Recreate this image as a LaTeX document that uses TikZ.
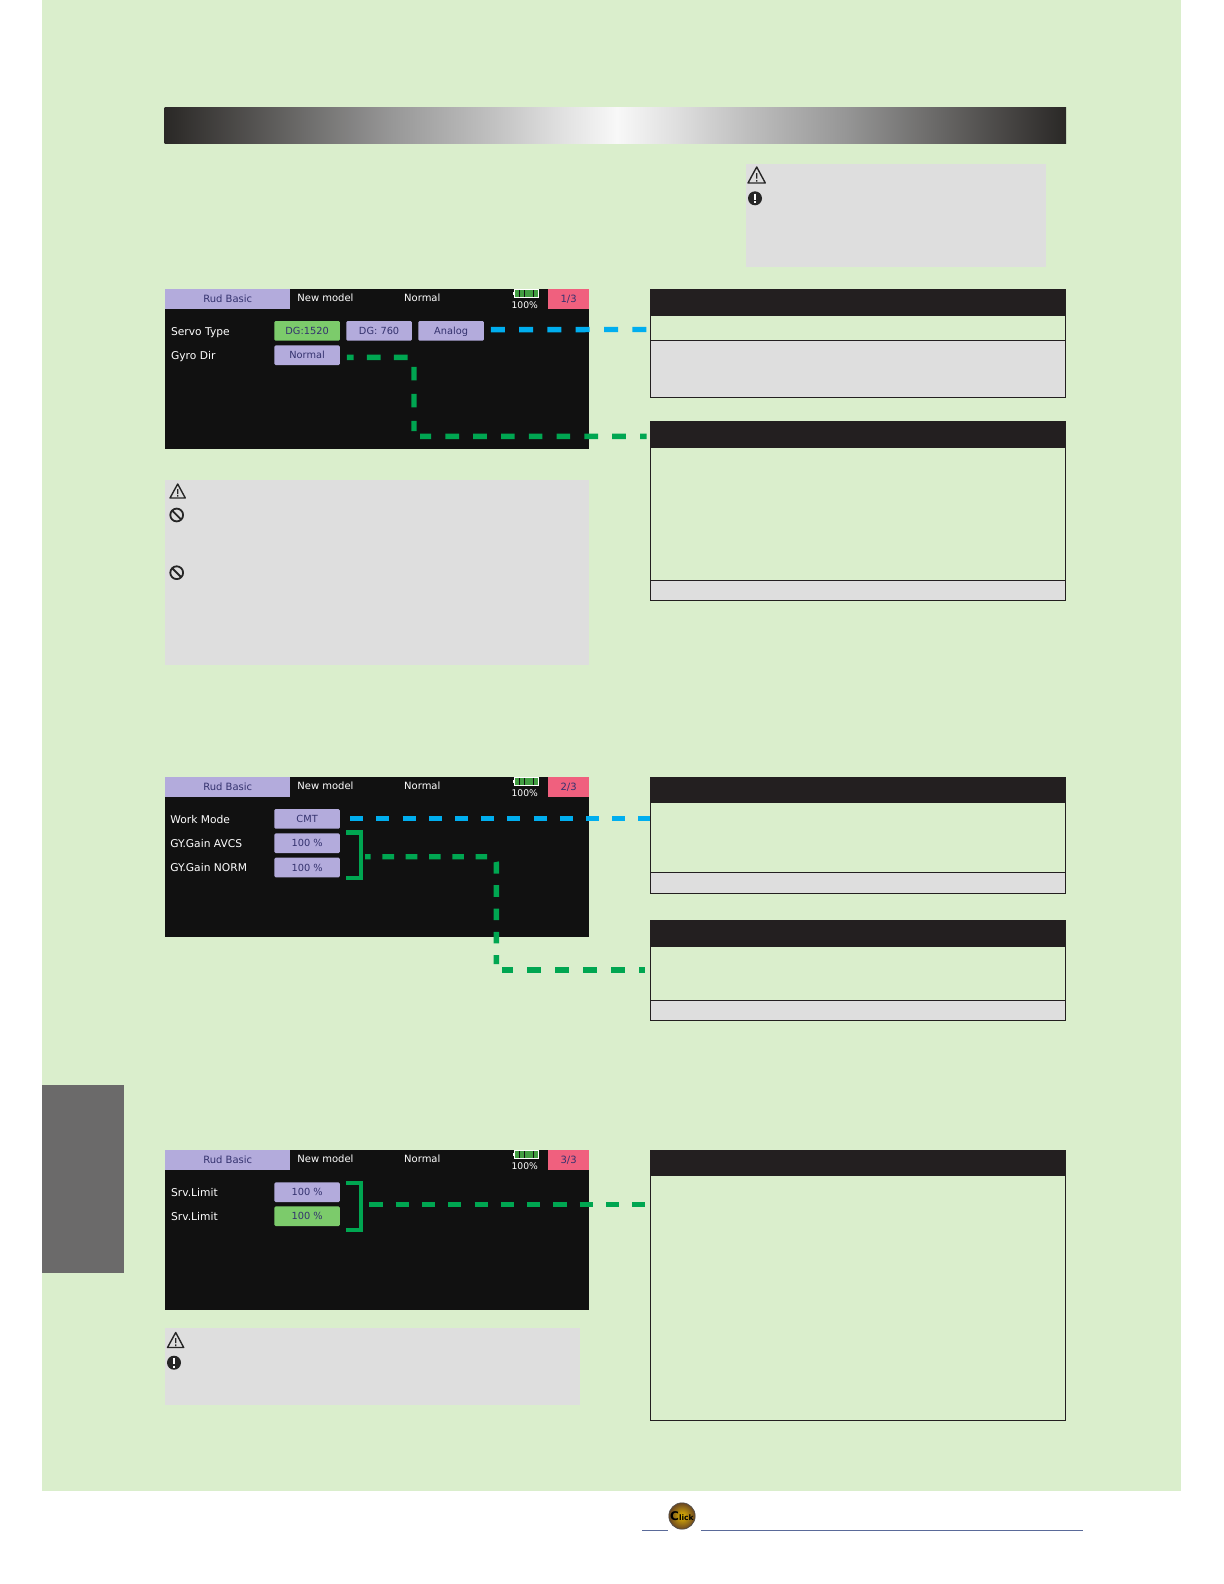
\documentclass[tikz,border=0pt]{standalone}
\usepackage{fontspec}
\setmainfont{DejaVu Sans}
\definecolor{panelgreen}{RGB}{218,238,204}
\definecolor{notegrey}{RGB}{222,222,222}
\definecolor{tabgrey}{RGB}{107,106,106}
\definecolor{headdark}{RGB}{35,31,32}
\definecolor{screenblack}{RGB}{17,17,17}
\definecolor{btnlav}{RGB}{179,171,220}
\definecolor{btngreen}{RGB}{124,203,107}
\definecolor{pagepink}{RGB}{240,96,126}
\definecolor{btnink}{RGB}{52,50,110}
\definecolor{dashblue}{RGB}{0,174,239}
\definecolor{dashgreen}{RGB}{0,166,81}
\definecolor{cellgreen}{RGB}{66,158,66}
\definecolor{rulelav}{RGB}{90,106,153}
\definecolor{barend}{RGB}{42,40,38}
\definecolor{barpeak}{RGB}{248,248,248}
\pgfdeclarehorizontalshading{barshade}{100bp}{color(0bp)=(barend);color(25bp)=(barend);
  color(30bp)=(barend!80!white);color(37.5bp)=(black!41);color(43bp)=(black!25);color(47bp)=(black!12);color(50.1bp)=(barpeak);
  color(53.2bp)=(black!12);color(57.2bp)=(black!25);color(62.7bp)=(black!41);color(70.2bp)=(barend!80!white);color(75bp)=(barend);color(100bp)=(barend)}
\tikzset{
  scrlabel/.style={inner sep=0pt,font=\fontsize{5}{6}\selectfont,text=white,text height=3.6pt,text depth=0pt},
  sidelabel/.style={scrlabel,anchor=west,font=\fontsize{5.35}{6}\selectfont},
  scrbtn/.style={rectangle,rounded corners=0.6pt,fill=btnlav,anchor=north west,inner sep=0pt,
    minimum width=32.7pt,minimum height=9.8pt,font=\fontsize{4.9}{6}\selectfont,text=btnink,text height=3.6pt,text depth=0pt},
  scrbtnon/.style={scrbtn,fill=btngreen},
  scrtab/.style={rectangle,anchor=north west,inner sep=0pt,minimum height=9.6pt,
    font=\fontsize{5}{6}\selectfont,text=btnink,text height=3.6pt,text depth=0pt},
  panelhead/.style={rectangle,anchor=north west,inner sep=0pt,outer sep=0pt,minimum width=207.8pt,fill=headdark},
  panelrow/.style={rectangle,anchor=north west,inner sep=0pt,outer sep=0pt,minimum width=207.6pt,draw=headdark,line width=0.5pt},
  bluedash/.style={draw=dashblue,line width=2.7pt},
  greendash/.style={draw=dashgreen,line width=2.7pt,rounded corners=3pt},
  gainbracket/.style={draw=dashgreen,line width=2.2pt},
  warnicon/.style={draw=black!85,line width=0.7pt,line join=round},
}
\begin{document}
\begin{tikzpicture}[x=0.5pt,y=-0.5pt]
\useasboundingbox (0,0) rectangle (1224,1584);

%Page ground
\fill [panelgreen] (42.4,0) rectangle (1181,1491);
\fill [tabgrey] (42.4,1085) rectangle (124,1273);
\shade [shading=barshade] (164.7,108) rectangle (1066,143.4);

%Note boxes
\fill [notegrey] (746,164) rectangle (1045.7,267.3);
\fill [notegrey] (165,480) rectangle (588.7,665);
\fill [notegrey] (165,1328.3) rectangle (580,1404.5);

%Note icons
\draw [warnicon] (756.7,167) -- (765.3,183) -- (748,183) -- cycle (756.7,173) -- (756.7,178.5) (756.7,180) -- (756.7,181.5);
\fill [black!85] (755,198.3) circle (3.5pt);
\draw [white,line width=0.8pt] (755,193.5) -- (755,199.5) (755,201) -- (755,203);
\draw [warnicon] (177.7,484) -- (185.3,498) -- (170,498) -- cycle (177.7,489) -- (177.7,494) (177.7,495) -- (177.7,496.5);
\draw [warnicon,line width=0.9pt] (176.7,515) circle (3.2pt) (172.2,510.5) -- (181.2,519.5);
\draw [warnicon,line width=0.9pt] (176.7,572.7) circle (3.2pt) (172.2,568.2) -- (181.2,577.2);
\draw [warnicon] (175.7,1332.5) -- (183.7,1347.5) -- (167.5,1347.5) -- cycle (175.7,1338) -- (175.7,1343) (175.7,1344.3) -- (175.7,1346);
\fill [black!85] (174,1362.7) circle (3.5pt);
\draw [white,line width=0.8pt] (174,1358) -- (174,1364) (174,1365.5) -- (174,1367.5);

%Screens
\foreach \scrtop/\scrpage in {289/1,777/2,1150/3} {
  \fill [screenblack] (164.7,\scrtop) rectangle (588.7,\scrtop+160);
  \draw (164.7,\scrtop) node [scrtab,fill=btnlav,minimum width=62.6pt] (rudtab\scrpage) {Rud Basic};
  \draw (547.7,\scrtop) node [scrtab,fill=pagepink,minimum width=20.5pt] (pagetab\scrpage) {\scrpage/3};
  \draw (297,\scrtop+9.3) node [scrlabel,anchor=west] (modelname\scrpage) {New model};
  \draw (422.3,\scrtop+9.3) node [scrlabel] (condname\scrpage) {Normal};
  \draw (524.7,\scrtop+15.7) node [scrlabel,font=\fontsize{4.6}{5}\selectfont] (battpct\scrpage) {100\%};
  %Battery
  \draw [white,line width=0.5pt] (514.5,\scrtop) rectangle (538.7,\scrtop+8.5);
  \fill [white] (513.3,\scrtop+2.5) rectangle (514.5,\scrtop+5.5);
  \foreach \cell in {515.3,519.9,524.5,529.1,533.7}
    \fill [cellgreen] (\cell,\scrtop+1) rectangle (\cell+4.1,\scrtop+7.5);
}

%Screen 1 texts and buttons
\draw (170.7,331.7) node [sidelabel] (servolbl) {Servo Type};
\draw (170.7,356) node [sidelabel] (gyrolbl) {Gyro Dir};
\draw (274,320.7) node [scrbtnon] (dgfast) {DG:1520};
\draw (346,320.7) node [scrbtn] (dgslow) {DG: 760};
\draw (418,320.7) node [scrbtn] (analogbtn) {Analog};
\draw (274,345) node [scrbtn] (normalbtn) {Normal};

%Screen 2 texts and buttons
\draw (170,819.5) node [sidelabel] (worklbl) {Work Mode};
\draw (170,843.8) node [sidelabel] (avcslbl) {GY.Gain AVCS};
\draw (170,868) node [sidelabel] (normlbl) {GY.Gain NORM};
\draw (274,808.7) node [scrbtn] (cmtbtn) {CMT};
\draw (274,833) node [scrbtn] (avcsbtn) {100 \%};
\draw (274,857.3) node [scrbtn] (normbtn) {100 \%};

%Screen 3 texts and buttons
\draw (170.7,1193) node [sidelabel] (limitlbla) {Srv.Limit};
\draw (170.7,1217.3) node [sidelabel] (limitlblb) {Srv.Limit};
\draw (274,1182) node [scrbtn] (limitbtna) {100 \%};
\draw (274,1206) node [scrbtnon] (limitbtnb) {100 \%};

%Right panels
\draw (650,315) node [panelrow,minimum height=12.65pt] (servorow) {};
\draw (650,340.3) node [panelrow,fill=notegrey,minimum height=28.5pt] (servonote) {};
\draw (650,289) node [panelhead,minimum height=13pt] (servohead) {};
\draw (650,447.7) node [panelrow,minimum height=66.4pt] (gyrobody) {};
\draw (650,580.5) node [panelrow,fill=notegrey,minimum height=10.1pt] (gyrofoot) {};
\draw (650,421) node [panelhead,minimum height=13.35pt] (gyrohead) {};
\draw (650,802.5) node [panelrow,minimum height=35pt] (modebody) {};
\draw (650,872.5) node [panelrow,fill=notegrey,minimum height=10.45pt] (modefoot) {};
\draw (650,777) node [panelhead,minimum height=12.75pt] (modehead) {};
\draw (650,946) node [panelrow,minimum height=27.2pt] (gainbody) {};
\draw (650,1000.4) node [panelrow,fill=notegrey,minimum height=10.1pt] (gainfoot) {};
\draw (650,919.7) node [panelhead,minimum height=13.15pt] (gainhead) {};
\draw (650,1175) node [panelrow,minimum height=122.5pt] (limitbody) {};
\draw (650,1150) node [panelhead,minimum height=12.5pt] (limithead) {};

%Brackets
\draw [gainbracket] (346,832.5) -- (361.2,832.5) -- (361.2,878.2) -- (346,878.2);
\draw [gainbracket] (346,1183) -- (361.2,1183) -- (361.2,1229.7) -- (346,1229.7);
\coordinate (gainbrk) at (365,856.7);
\coordinate (limitbrk) at (369.3,1204.3);
\coordinate (gyrobend) at (414,431);
\coordinate (gainbend) at (496.3,964);

%Dashed connectors
\draw [bluedash,dash pattern=on 7pt off 7.15pt,shorten <=3.3pt,shorten >=1.7pt] ([yshift=0.6pt]analogbtn.east) -- ([yshift=-0.9pt]servorow.west);
\draw [bluedash,dash pattern=on 6.5pt off 6.6pt,shorten <=5pt] ([yshift=0.3pt]cmtbtn.east) -- ([yshift=0.3pt]cmtbtn.east -| modebody.west);
\draw [greendash,dash pattern=on 6.8pt off 6.7pt,dash phase=3.45pt,shorten <=3.3pt] ([yshift=-1.1pt]normalbtn.east) -- (414,357.3) -- (gyrobend);
\draw [greendash,dash pattern=on 6.8pt off 7.1pt,dash phase=1.2pt,shorten >=1.7pt] (420,436.3) -- ([yshift=-1pt]gyrohead.west);
\draw [greendash,dash pattern=on 5.8pt off 5.85pt,dash phase=2.95pt] (gainbrk) -- (496.3,856.7) -- (gainbend);
\draw [greendash,dash pattern=on 7pt off 7pt,dash phase=1.65pt,shorten >=2.5pt] (502.3,970) -- (645,970 -| gainhead.west);
\draw [greendash,dash pattern=on 6.6pt off 6.55pt,shorten >=2.5pt] (limitbrk) -- (limitbrk -| limitbody.west);

%Click badge
\shade [inner color=yellow!60!orange!90!black,outer color=brown!55!black] (682,1516) circle (6.6pt);
\draw [black!70,line width=0.3pt] (682,1516) circle (6.6pt);
\draw (682,1516) node [font=\fontsize{3.8}{5}\selectfont\bfseries,text=black,inner sep=0pt] (clicktxt) {{\fontsize{6}{6}\selectfont C}lick};
\draw [rulelav,line width=0.6pt] (642,1530.3) -- (668,1530.3) (701,1530.3) -- (1082.7,1530.3);
\end{tikzpicture}
\end{document}
